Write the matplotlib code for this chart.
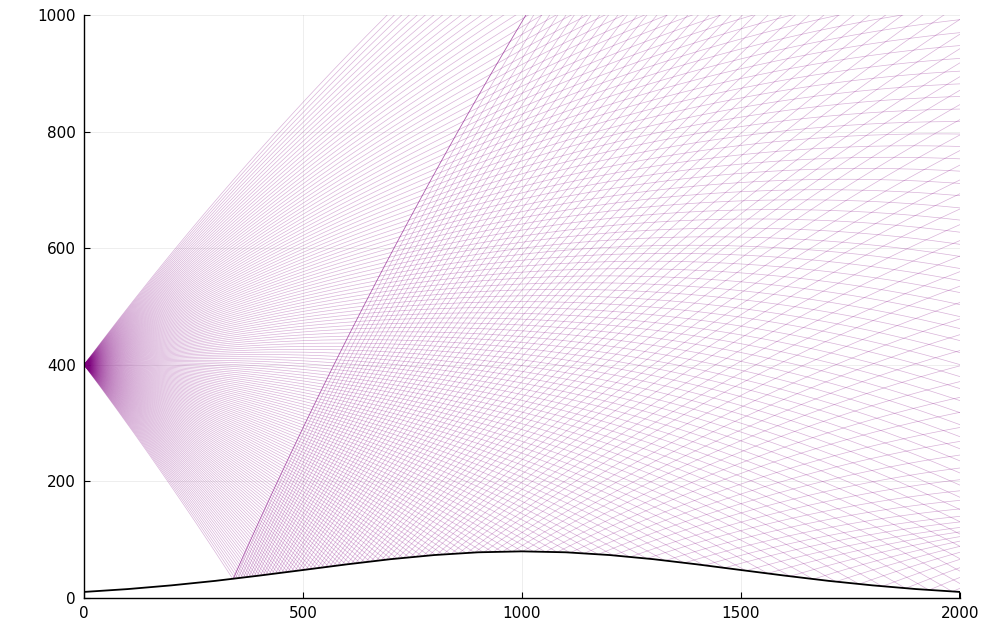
import matplotlib
matplotlib.use("Agg")
import matplotlib.pyplot as plt
import numpy as np

# source and fan of launch angles (degrees from horizontal)
SOURCE_X = 0.0
SOURCE_Y = 400.0
ANGLE_MIN = -45.0
ANGLE_MAX = 45.0
N_RAYS = 161

# sound speed grows linearly with height: c(y) = C0 + G * y
C0 = 1500.0
G = 0.36

# seabed profile, sampled every 100 m
BOTTOM_X = [0, 100, 200, 300, 400, 500, 600, 700, 800, 900, 1000,
            1100, 1200, 1300, 1400, 1500, 1600, 1700, 1800, 1900, 2000]
BOTTOM_Y = [10.4, 15.3, 21.7, 29.4, 38.4, 48.0, 57.7, 66.6, 73.7, 78.4, 80.0,
            78.4, 73.7, 66.6, 57.7, 48.0, 38.4, 29.4, 21.7, 15.3, 10.4]

X_MAX = 2000
Y_MAX = 1000
Y_TRACE = 1500   # rays are followed above the plot window too

X_TICKS = [0, 500, 1000, 1500, 2000]
Y_TICKS = [0, 200, 400, 600, 800, 1000]


def bottom_height(x):
    return np.interp(x, BOTTOM_X, BOTTOM_Y)


def bottom_slope(x):
    slopes = np.gradient(np.array(BOTTOM_Y), np.array(BOTTOM_X, dtype=float))
    return np.interp(x, BOTTOM_X, slopes)


def trace_ray(angle_deg, ds=2.0):
    """March a ray through the gradient; returns path and index of first bounce."""
    x, y = SOURCE_X, SOURCE_Y
    theta = np.radians(angle_deg)
    xs, ys = [x], [y]
    first_bounce = None
    while x < X_MAX and y < Y_TRACE:
        c = C0 + G * y
        theta -= (G / c) * np.cos(theta) * ds
        x += np.cos(theta) * ds
        y += np.sin(theta) * ds
        yb = bottom_height(x)
        if y < yb:
            alpha = np.arctan(bottom_slope(x))
            theta = 2 * alpha - theta
            y = yb
            if first_bounce is None:
                first_bounce = len(xs)
        xs.append(x)
        ys.append(y)
    return xs, ys, first_bounce


fig = plt.figure(figsize=(10.02, 6.3), dpi=100)
ax = fig.add_axes([0.0838, 0.0508, 0.958 - 0.0838, 0.976 - 0.0508])

angles = np.linspace(ANGLE_MIN, ANGLE_MAX, N_RAYS)
for a in angles:
    xs, ys, _ = trace_ray(a)
    ax.plot(xs, ys, color="purple", lw=0.5, alpha=0.3)

# the steepest ray's reflection bounds the bounced field
xs, ys, k = trace_ray(angles[0])
ax.plot(xs[k:], ys[k:], color="purple", lw=0.6, alpha=0.45)

bx = [BOTTOM_X[0]] + BOTTOM_X + [BOTTOM_X[-1]]
by = [0] + BOTTOM_Y + [0]
ax.plot(bx, by, color="black", lw=1.3)

ax.set_xlim(0, X_MAX)
ax.set_ylim(0, Y_MAX)
ax.set_xticks(X_TICKS)
ax.set_yticks(Y_TICKS)
ax.tick_params(direction="in", length=4, width=0.8, labelsize=11, pad=6)
ax.grid(True, color="black", alpha=0.08, lw=0.6)
for side in ["top", "right"]:
    ax.spines[side].set_visible(False)
for side in ["left", "bottom"]:
    ax.spines[side].set_linewidth(1.0)

plt.savefig("out.png", dpi=100)
